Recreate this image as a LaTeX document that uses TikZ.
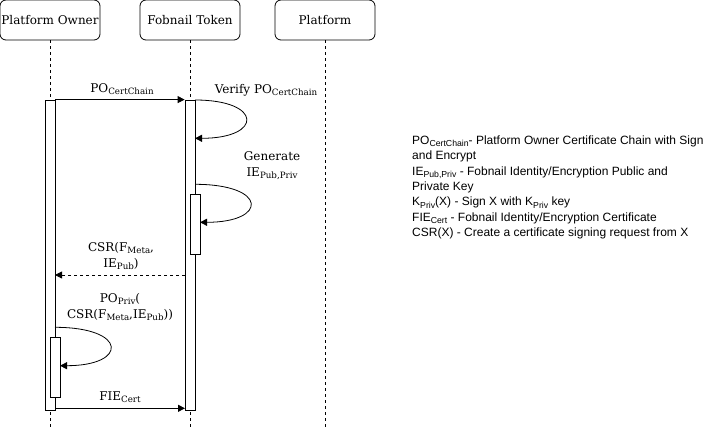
\documentclass[tikz,border=0pt]{standalone}
\usepackage{fontspec}
\setmainfont{DejaVu Serif}
\newfontfamily\legendfont{Liberation Sans}
\usetikzlibrary{arrows.meta}
\newcommand{\lsub}[1]{\raisebox{-0.35ex}{\fontsize{8.7}{9}\selectfont #1}}
\tikzset{
  actor/.style={draw, rounded corners=6pt, minimum width=100pt, minimum height=40pt, inner sep=0pt, line width=0.8pt, font=\fontsize{12}{14}\selectfont},
  bar/.style={draw, fill=white, minimum width=10pt, inner sep=0pt, line width=0.8pt},
  life/.style={line width=0.8pt, dash pattern=on 3pt off 3pt},
  msg/.style={line width=0.8pt, -{Triangle[length=7pt,width=7pt]}},
  reply/.style={msg, dash pattern=on 3pt off 3pt},
  lbl/.style={align=center, inner sep=0pt, font=\fontsize{12}{16}\selectfont},
}
\begin{document}
\begin{tikzpicture}[x=1pt,y=-1pt]
\useasboundingbox (0,0) rectangle (711,431);
\node[actor] (po) at (50,20) {Platform Owner};
\node[actor] (ft) at (190,20) {Fobnail Token};
\node[actor] (pl) at (325,20) {Platform};
\coordinate (poend) at (50,428);
\coordinate (ftend) at (190,428);
\coordinate (plend) at (325,428);
\draw[life] (po.south) -- (poend);
\draw[life] (ft.south) -- (ftend);
\draw[life] (pl.south) -- (plend);
% activation bars
\node[bar, minimum height=310pt] (pobar) at (50,255) {};
\node[bar, minimum height=310pt] (ftbar) at (190,255) {};
\node[bar, minimum height=60pt] (ftbar2) at (195,224.3) {};
\node[bar, minimum height=60pt] (pobar2) at (55,367.3) {};
% message 1
\draw[msg] (pobar.north east) -- (ftbar.north west);
\node[lbl] (l1) at (122,89) {PO\lsub{CertChain}};
% verify loop
\coordinate (v1) at (195,100);
\coordinate (v2) at (195,138.3);
\draw[msg] (v1) .. controls (263,100) and (263,138.3) .. (v2);
\node[lbl] (l2) at (266,90) {Verify PO\lsub{CertChain}};
% generate loop
\coordinate (g1) at (195,184.3);
\coordinate (g2) at (200,222.3);
\draw[msg] (g1) .. controls (268,184.3) and (268,222.3) .. (g2);
\node[lbl] (l3) at (272,166) {Generate\\IE\lsub{Pub,Priv}};
% CSR reply
\coordinate (c1) at (185,275);
\coordinate (c2) at (55,275);
\draw[reply] (c1) -- (c2);
\node[lbl] (l4) at (121,256) {CSR(F\lsub{Meta},\\IE\lsub{Pub})};
% PO sign loop
\coordinate (s1) at (55,327.3);
\coordinate (s2) at (60,365.7);
\draw[msg] (s1) .. controls (128,327.3) and (128,365.7) .. (s2);
\node[lbl] (l5) at (120,307) {PO\lsub{Priv}(\\CSR(F\lsub{Meta},IE\lsub{Pub}))};
% FIE cert
\coordinate (f1) at (55,408.3);
\coordinate (f2) at (185,408.3);
\draw[msg] (f1) -- (f2);
\node[lbl] (l6) at (120,397) {FIE\lsub{Cert}};
% legend
\node[anchor=north west, align=left, inner sep=0pt, font=\legendfont\fontsize{12}{15.35}\selectfont] (legend) at (412,135.5) {%
PO\lsub{CertChain}- Platform Owner Certificate Chain with Sign\\
and Encrypt\\
IE\lsub{Pub,Priv} - Fobnail Identity/Encryption Public and\\
Private Key\\
K\lsub{Priv}(X) - Sign X with K\lsub{Priv} key\\
FIE\lsub{Cert} - Fobnail Identity/Encryption Certificate\\
CSR(X) - Create a certificate signing request from X};
\end{tikzpicture}
\end{document}
